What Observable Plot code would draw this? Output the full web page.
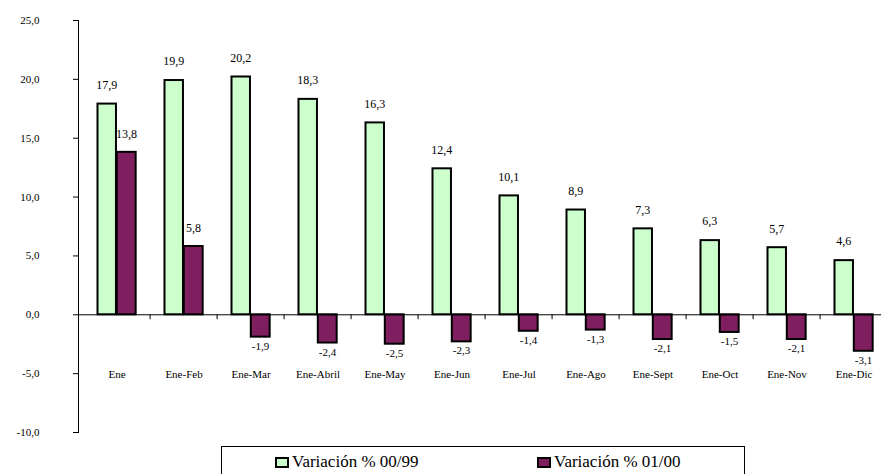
<!DOCTYPE html>
<html>
<head>
<meta charset="utf-8">
<script src="https://cdn.jsdelivr.net/npm/d3@7"></script>
<script src="https://cdn.jsdelivr.net/npm/@observablehq/plot@0.6"></script>
<style>
  html, body { margin: 0; padding: 0; background: white; overflow: hidden; }
  #legend { position: relative; margin-left: 221px; width: 524px; height: 28px; border: 1px solid black; border-bottom: none; box-sizing: border-box; font-family: 'Liberation Serif', 'DejaVu Serif', serif; font-size: 17px; color: black; }
  .sw { position: absolute; top: 10px; width: 14px; height: 11px; border: 2px solid black; box-sizing: border-box; }
  .lt { position: absolute; top: 5px; line-height: 20px; white-space: nowrap; }
  #chart svg, #chart svg text { font-family: 'Liberation Serif', 'DejaVu Serif', serif !important; }
</style>
</head>
<body>
<div id="chart"></div>
<div id="legend"></div>
<script>
const categories = ["Ene", "Ene-Feb", "Ene-Mar", "Ene-Abril", "Ene-May", "Ene-Jun", "Ene-Jul", "Ene-Ago", "Ene-Sept", "Ene-Oct", "Ene-Nov", "Ene-Dic"];
const var0099 = [17.9, 19.9, 20.2, 18.3, 16.3, 12.4, 10.1, 8.9, 7.3, 6.3, 5.7, 4.6];
const var0100 = [13.8, 5.8, -1.9, -2.4, -2.5, -2.3, -1.4, -1.3, -2.1, -1.5, -2.1, -3.1];
const yTicks = [-10, -5, 0, 5, 10, 15, 20, 25];
const seriesNames = ["Variación % 00/99", "Variación % 01/00"];
const colors = ["#CCFFCC", "#7F1F5F"];

const fmt = v => d3.format(".1f")(v).replace(".", ",").replace("−", "-");

const d1 = categories.map((c, i) => ({cat: c, v: var0099[i]}));
const d2 = categories.map((c, i) => ({cat: c, v: var0100[i]}));

const xRange = [78, 892];
const bw = (xRange[1] - xRange[0]) / categories.length;

const chart = Plot.plot({
  width: 881,
  height: 446,
  marginLeft: 78,
  marginRight: 0,
  marginTop: 20,
  marginBottom: 14,
  x: {domain: categories, range: xRange, padding: 0, axis: null},
  y: {domain: [-10, 25], axis: null},
  style: {fontFamily: "'Liberation Serif', 'DejaVu Serif', serif", fontSize: "11px", color: "black", background: "white", overflow: "hidden"},
  marks: [
    Plot.axisY(yTicks, {label: null, tickSize: 5, tickPadding: 34, tickFormat: fmt, fontSize: 11, stroke: "black", fill: "black"}),
    Plot.frame({anchor: "left", stroke: "black"}),
    Plot.text(d2.filter(d => d.v >= 0), {x: "cat", y: "v", text: d => fmt(d.v), dx: bw * 0.14, dy: -18, fill: "black", fontSize: 12}),
    Plot.text(d2.filter(d => d.v < 0), {x: "cat", y: "v", text: d => fmt(d.v), dx: bw * 0.14, dy: 9, fill: "black", fontSize: 11}),
    Plot.text(d1, {x: "cat", y: "v", text: d => fmt(d.v), dx: -bw * 0.15, dy: -19, fill: "black", fontSize: 12}),
    Plot.text(categories, {x: d => d, y: () => -5, text: d => d, fill: "black", fontSize: 11, dy: 1}),
    Plot.barY(d1, {x: "cat", y: "v", fill: colors[0], stroke: "black", strokeWidth: 2, insetLeft: 14.5, insetRight: bw - 33.8}),
    Plot.barY(d2, {x: "cat", y: "v", fill: colors[1], stroke: "black", strokeWidth: 2, insetLeft: 33.8, insetRight: bw - 53.5}),
    Plot.ruleY([0], {stroke: "black"}),
    Plot.ruleX(categories.slice(1), {x: d => d, y1: 0, y2: -0.42, dx: -bw / 2, stroke: "black"})
  ]
});
document.getElementById("chart").appendChild(chart);

const legend = document.getElementById("legend");
const pos = [{sw: 53, tx: 70}, {sw: 315, tx: 332}];
seriesNames.forEach((name, i) => {
  const s = document.createElement("div");
  s.className = "sw";
  s.style.left = pos[i].sw + "px";
  s.style.background = colors[i];
  legend.appendChild(s);
  const t = document.createElement("div");
  t.className = "lt";
  t.style.left = pos[i].tx + "px";
  t.textContent = name;
  legend.appendChild(t);
});
</script>
</body>
</html>
